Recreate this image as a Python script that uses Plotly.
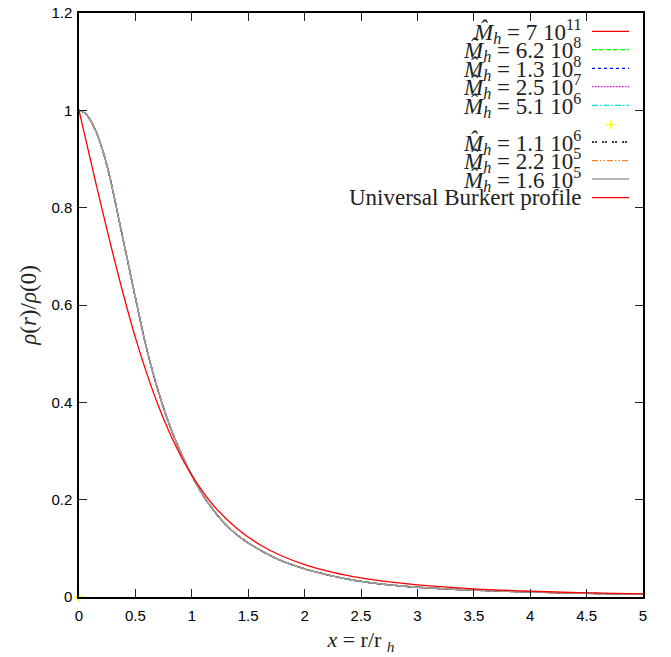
import plotly.graph_objects as go

# ---- data ----
x_halo = [0, 0.05, 0.1, 0.15, 0.2, 0.25, 0.3, 0.35, 0.4, 0.45, 0.5, 0.6, 0.7, 0.8, 0.9,
          1.0, 1.1, 1.2, 1.3, 1.4, 1.5, 1.75, 2.0, 2.25, 2.5, 2.75, 3.0, 3.5, 4.0, 4.5, 5.0]
y_halo = [1.0, 0.995, 0.98, 0.957, 0.925, 0.885, 0.835, 0.78, 0.725, 0.67, 0.615, 0.51,
          0.425, 0.355, 0.298, 0.25, 0.209, 0.176, 0.149, 0.128, 0.111, 0.079, 0.058,
          0.043, 0.032, 0.025, 0.020, 0.014, 0.0103, 0.0076, 0.0056]

x_burkert = [0, 0.05, 0.1, 0.15, 0.2, 0.3, 0.4, 0.5, 0.6, 0.7, 0.8, 0.9, 1.0, 1.2, 1.4,
             1.6, 1.8, 2.0, 2.25, 2.5, 2.75, 3.0, 3.5, 4.0, 4.5, 5.0]
y_burkert = [1.0, 0.950, 0.900, 0.850, 0.801, 0.706, 0.616, 0.533, 0.460, 0.395, 0.339,
             0.291, 0.25, 0.186, 0.141, 0.108, 0.0842, 0.0667, 0.0508, 0.0394, 0.0311,
             0.025, 0.0168, 0.0118, 0.00856, 0.0064]

mass_mantissa = ["7", "6.2", "1.3", "2.5", "5.1", None, "1.1", "2.2", "1.6"]
mass_exponent = ["11", "8", "8", "7", "6", None, "6", "5", "5"]

point_x = [0]
point_y = [0]

x_ticks = [0, 0.5, 1, 1.5, 2, 2.5, 3, 3.5, 4, 4.5, 5]
x_ticklabels = ["0", "0.5", "1", "1.5", "2", "2.5", "3", "3.5", "4", "4.5", "5"]
y_ticks = [0, 0.2, 0.4, 0.6, 0.8, 1.0, 1.2]
y_ticklabels = ["0", "0.2", "0.4", "0.6", "0.8", "1", "1.2"]

# ---- styles ----
colors = ["#ff0000", "#00ff00", "#0000ff", "#ff00ff", "#00e0e0", "#ffff00",
          "#000000", "#ff7f2a", "#a0a0a0"]
dashes = ["solid", "5px,2px", "3px,3px", "1.5px,1.5px", "6px,2px,1.5px,2px", None,
          "2px,1px,2px,5px", "6px,2px,1.5px,2px,1.5px,2px", "solid"]
burkert_color = "#ff0000"

W, H = 671, 657
L, R, T, B = 79, 28, 13, 60
pw, ph = W - L - R, H - T - B

def px_to_paper_x(px):
    return (px - L) / pw

def px_to_paper_y(py):
    return (H - B - py) / ph

fig = go.Figure()

for i, (m, e) in enumerate(zip(mass_mantissa, mass_exponent)):
    if m is None:
        fig.add_trace(go.Scatter(x=point_x, y=point_y, mode="markers",
                                 marker=dict(symbol="cross-thin", size=8,
                                             line=dict(color=colors[i], width=1.3)),
                                 cliponaxis=False, showlegend=False, hoverinfo="skip"))
    else:
        fig.add_trace(go.Scatter(x=x_halo, y=y_halo, mode="lines", line_shape="spline",
                                 line=dict(color=colors[i], width=1.3, dash=dashes[i]),
                                 showlegend=False,
                                 name=f"M_h = {m} 10^{e}"))

fig.add_trace(go.Scatter(x=x_burkert, y=y_burkert, mode="lines", line_shape="spline",
                         line=dict(color=burkert_color, width=1.3),
                         showlegend=False, name="Universal Burkert profile"))

# ---- legend drawn gnuplot-style: text right-aligned, sample on the right ----
row_py = [31.3, 49.7, 68.3, 86.7, 105.3, 124.0, 142.0, 160.7, 179.0, 197.7]
text_right = px_to_paper_x(583)
s0, s1 = px_to_paper_x(592), px_to_paper_x(629)
serif = "Liberation Serif, Times New Roman, serif"

labels = []
for m, e in zip(mass_mantissa, mass_exponent):
    if m is None:
        labels.append(None)
    else:
        labels.append(f"<i>M\u0302</i><sub><i>h</i></sub> = {m} 10<sup>{e}</sup>")
labels.append("Universal Burkert profile")
all_colors = colors + [burkert_color]
all_dashes = dashes + ["solid"]

for k, (lab, py) in enumerate(zip(labels, row_py)):
    yp = px_to_paper_y(py)
    if lab is None:
        fig.add_annotation(x=px_to_paper_x(610.5), y=yp, xref="paper", yref="paper",
                           text="+", showarrow=False, xanchor="center", yanchor="middle",
                           font=dict(family="DejaVu Sans", size=14, color=all_colors[k]))
        continue
    fig.add_annotation(x=text_right, y=yp, xref="paper", yref="paper", text=lab,
                       showarrow=False, xanchor="right", yanchor="middle",
                       font=dict(family=serif, size=23, color="#222222"))
    fig.add_shape(type="line", xref="paper", yref="paper", x0=s0, x1=s1, y0=yp, y1=yp,
                  line=dict(color=all_colors[k], width=1.3, dash=all_dashes[k]))

sans = "Liberation Sans Narrow, Arial Narrow, Liberation Sans, sans-serif"

fig.update_layout(
    width=W, height=H,
    margin=dict(l=L, r=R, t=T, b=B, autoexpand=False),
    paper_bgcolor="white", plot_bgcolor="white",
    showlegend=False,
    xaxis=dict(range=[0, 5], tickvals=x_ticks, ticktext=x_ticklabels,
               ticks="inside", ticklen=8, tickwidth=1.3, tickcolor="#222222",
               showline=True, linecolor="black", linewidth=1.5, mirror="ticks",
               showgrid=False, zeroline=False,
               tickfont=dict(family=sans, size=15, color="black"),
               ticklabelstandoff=4,
               title=dict(text="<i>x</i> = r/r <sub><i>h</i></sub>", standoff=9,
                          font=dict(family=serif, size=22, color="#222222"))),
    yaxis=dict(range=[0, 1.2], tickvals=y_ticks, ticktext=y_ticklabels,
               ticks="inside", ticklen=8, tickwidth=1.3, tickcolor="#222222",
               showline=True, linecolor="black", linewidth=1.5, mirror="ticks",
               showgrid=False, zeroline=False,
               tickfont=dict(family=sans, size=15, color="black"),
               ticklabelstandoff=2,
               title=dict(text="<i>\u03c1</i>(<i>r</i>)/<i>\u03c1</i>(0)", standoff=8,
                          font=dict(family=serif, size=23, color="#222222"))),
)

fig.write_html("out.html", config={"displayModeBar": False},
               post_script="document.body.style.margin='0';document.body.style.overflow='hidden';")
